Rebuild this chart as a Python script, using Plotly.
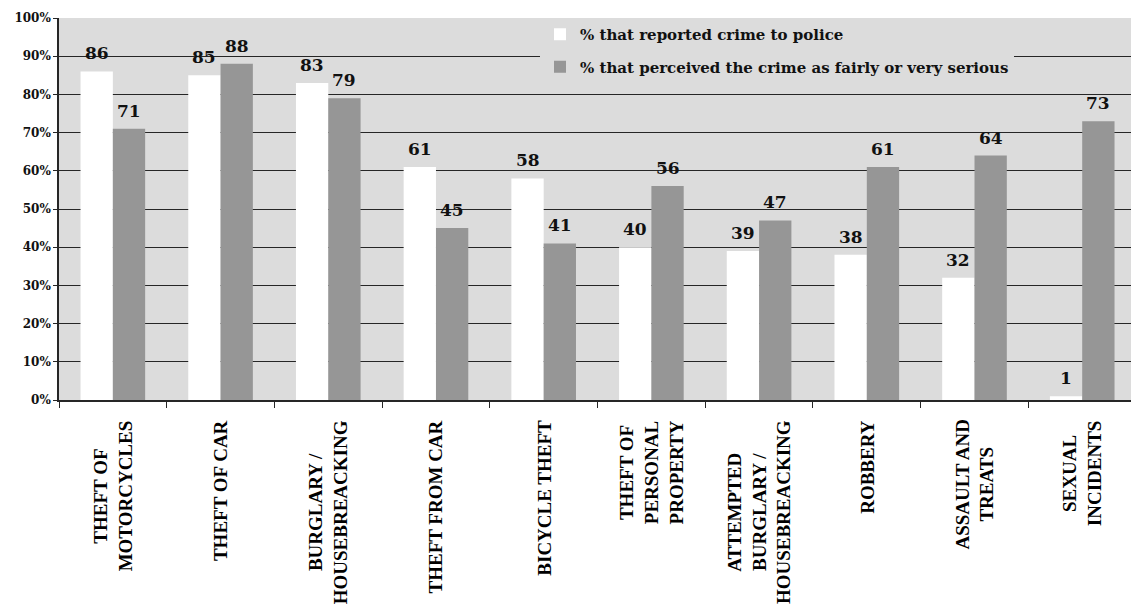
import plotly.graph_objects as go

# Crime categories (line breaks mark where each rotated label wraps)
categories = [
    "THEFT OF<br>MOTORCYCLES",
    "THEFT OF CAR",
    "BURGLARY /<br>HOUSEBREACKING",
    "THEFT FROM CAR",
    "BICYCLE THEFT",
    "THEFT OF<br>PERSONAL<br>PROPERTY",
    "ATTEMPTED<br>BURGLARY /<br>HOUSEBREACKING",
    "ROBBERY",
    "ASSAULT AND<br>TREATS",
    "SEXUAL<br>INCIDENTS",
]
reported_to_police = [86, 85, 83, 61, 58, 40, 39, 38, 32, 1]
perceived_serious = [71, 88, 79, 45, 41, 56, 47, 61, 64, 73]

series_names = [
    "% that reported crime to police",
    "% that perceived the crime as fairly or very serious",
]
y_ticks = list(range(0, 101, 10))

NUM_FONT = "Georgia, 'DejaVu Serif', serif"
CAT_FONT = "'Times New Roman', 'Liberation Serif', serif"
BG = "#dcdcdc"
BAR_GREY = "#969696"
LINE = "#262626"

x_idx = list(range(len(categories)))

fig = go.Figure()
fig.add_trace(go.Bar(
    x=x_idx, y=reported_to_police, name=f"<b>{series_names[0]}</b>",
    marker=dict(color="#ffffff", line=dict(width=0)),
    legendgroup="a",
))
fig.add_trace(go.Bar(
    x=x_idx, y=perceived_serious, name=f"<b>{series_names[1]}</b>",
    marker=dict(color=BAR_GREY, line=dict(width=0)),
    legendgroup="b",
))

annotations = []
# value labels above each bar
for i, (a, b) in enumerate(zip(reported_to_police, perceived_serious)):
    for offset, v in ((-0.15, a), (0.15, b)):
        annotations.append(dict(
            x=i + offset, y=v, xref="x", yref="y",
            text=f"<b>{v}</b>", showarrow=False,
            yanchor="bottom", xanchor="center", yshift=6,
            font=dict(family=NUM_FONT, size=17, color="#111111"),
        ))
# rotated category labels below the axis
for i, name in enumerate(categories):
    annotations.append(dict(
        x=i, y=0, xref="x", yref="paper",
        text=f"<b>{name}</b>", showarrow=False,
        textangle=-90, align="center",
        xanchor="center", yanchor="top", yshift=-18,
        font=dict(family=CAT_FONT, size=19, color="#000000"),
    ))

fig.update_layout(
    width=1131, height=613,
    margin=dict(l=59, r=0, t=18, b=213),
    paper_bgcolor="#ffffff",
    plot_bgcolor=BG,
    barmode="group",
    bargap=0.4,
    bargroupgap=0,
    showlegend=True,
    legend=dict(
        x=0.4487, y=1, xanchor="left", yanchor="top",
        bgcolor=BG, borderwidth=0,
        traceorder="grouped", tracegroupgap=10,
        font=dict(family=NUM_FONT, size=15, color="#111111"),
        itemclick=False,
    ),
    annotations=annotations,
    xaxis=dict(
        type="linear",
        range=[-0.5, 9.453],
        tickmode="array",
        tickvals=[i - 0.5 for i in range(len(categories) + 1)],
        showticklabels=False,
        ticks="outside", ticklen=6, tickcolor=LINE, tickwidth=1.3,
        showline=True, linecolor=LINE, linewidth=1.5,
        showgrid=False, zeroline=False,
    ),
    yaxis=dict(
        range=[0, 100],
        tickvals=y_ticks,
        ticktext=[f"<b>{t}%</b>" for t in y_ticks],
        ticks="outside", ticklen=4, tickcolor=LINE, tickwidth=1.3,
        showline=True, linecolor=LINE, linewidth=1.5,
        showgrid=True, gridcolor=LINE, gridwidth=1.3,
        zeroline=False,
        tickfont=dict(family=NUM_FONT, size=12, color="#111111"),
    ),
)

fig.write_html("out.html")
